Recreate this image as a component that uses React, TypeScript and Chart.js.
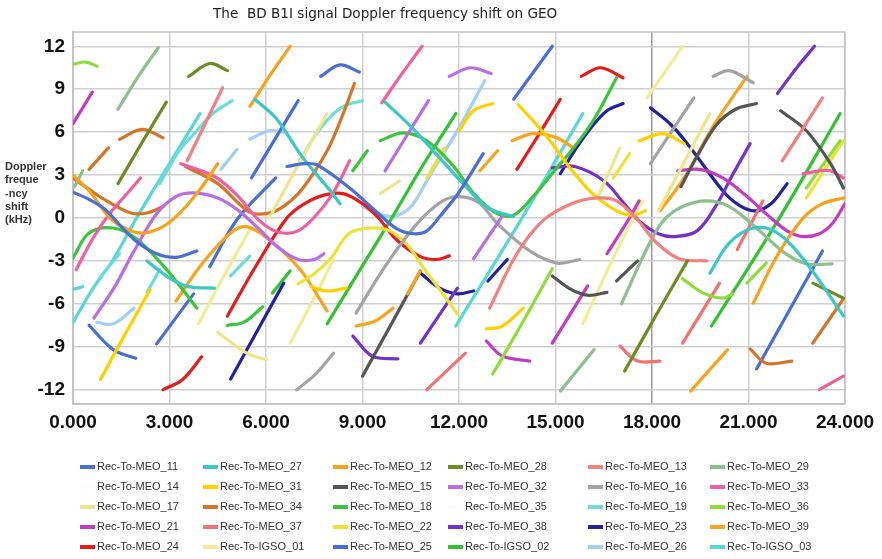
import React, { useEffect, useRef } from "react";
import { Chart, registerables } from "chart.js";
Chart.register(...registerables);

type Pt = [number, number];
type Seg = Pt[];

const TITLE = "The  BD B1I signal Doppler frequency shift on GEO";
const Y_LABEL_LINES = ["Doppler", "freque", "-ncy", "shift", "(kHz)"];
const X_TICKS = [0, 3, 6, 9, 12, 15, 18, 21, 24];
const Y_TICKS = [-12, -9, -6, -3, 0, 3, 6, 9, 12];

const MEO_11: Seg[] = [
  [[0, 1.8], [0.5, 1.3], [1.0, 0.6], [1.5, -0.6], [2.0, -1.7], [2.6, -2.5], [3.2, -2.75], [3.85, -2.3]],
  [[6.65, 3.6], [7.2, 3.8], [7.6, 3.7], [8.6, 2.1], [9.5, 0.3], [10.1, -0.8], [10.6, -1.1], [11.0, -0.9], [11.4, 0.1], [12.0, 1.8], [12.75, 4.5]],
  [[7.7, 9.9], [8.3, 10.7], [8.9, 10.2]],
];
const MEO_27: Seg[] = [
  [[2.3, -3.0], [3.0, -4.2], [3.6, -4.8], [4.4, -4.9]],
  [[5.65, 8.3], [6.3, 7.0], [7.15, 4.2], [8.0, 1.9], [8.3, 1.0]],
  [[9.7, 8.1], [10.5, 6.4], [11.4, 4.2], [12.25, 2.1], [12.9, 0.7], [13.7, 0.1]],
  [[19.8, -3.85], [20.4, -1.75], [21.15, -0.7], [21.9, -1.05], [22.8, -3.15], [23.95, -6.85]],
];
const MEO_12: Seg[] = [
  [[0, 3.0], [0.5, 1.9], [1.15, 0.0], [1.7, -0.8], [2.2, -1.05], [2.8, -0.6], [3.3, 0.3], [3.95, 2.0], [4.5, 3.8]],
  [[5.5, 7.8], [6.1, 9.9], [6.75, 12]],
  [[10.4, -5.3], [10.8, -3.7]],
  [[12.65, 3.3], [13.2, 4.7]],
  [[21.15, -5.95], [21.9, -2.6], [22.7, 0], [23.3, 1.0], [23.95, 1.4]],
];
const MEO_28: Seg[] = [
  [[1.4, 2.4], [2.1, 5.1], [2.9, 8.1]],
  [[3.6, 9.9], [4.25, 10.8], [4.8, 10.3]],
  [[17.15, -10.7], [18.1, -6.9], [19.1, -3.0]],
  [[23.0, -4.55], [23.95, -5.6]],
];
const MEO_13: Seg[] = [
  [[3.55, 4.0], [4.65, 9.1]],
  [[12.95, -6.3], [13.8, -2.5], [14.6, -0.2], [15.5, 1.0], [16.3, 1.4], [16.9, 1.2], [17.5, 0.0], [18.15, -1.75], [18.85, -2.85], [19.7, -3.0]],
  [[22.05, 4.0], [23.3, 8.4]],
];
const MEO_29: Seg[] = [
  [[0.05, 2.2], [0.3, 3.3]],
  [[1.4, 7.6], [2.0, 9.8], [2.65, 11.9]],
  [[15.15, -12.1], [16.2, -9.2]],
  [[17.05, -6.0], [17.85, -2.1], [18.35, -0.2], [18.95, 0.8], [19.7, 1.2], [20.4, 0.8], [21.15, -0.5], [22.1, -2.4], [22.8, -3.2], [23.6, -3.2]],
];
const MEO_14: Seg[] = [];
const MEO_31: Seg[] = [
  [[0.85, -11.3], [1.6, -8.2], [2.4, -5.0]],
  [[7.4, -4.8], [7.9, -5.1], [8.5, -4.9]],
  [[12.0, 6.1], [12.45, 7.5], [13.05, 8.0]],
  [[13.85, 7.9], [14.5, 6.3], [14.9, 5.2], [15.45, 3.5], [16.15, 1.7], [16.9, 0.5], [17.4, 0.2], [17.8, 0.5]],
  [[12.85, -7.75], [13.35, -7.55], [14.0, -6.3]],
  [[17.6, 5.4], [18.35, 5.9], [19.0, 5.2]],
];
const MEO_15: Seg[] = [
  [[9.0, -11.05], [9.9, -7.4], [10.8, -3.7]],
  [[14.9, -4.05], [15.45, -4.95], [16.0, -5.4], [16.6, -5.2]],
  [[16.9, -4.4], [17.55, -3.0]],
  [[18.9, 2.2], [19.4, 4.3], [20.0, 6.5], [20.6, 7.6], [21.25, 8.0]],
  [[22.0, 7.5], [22.8, 6.1], [23.55, 3.8], [23.95, 2.1]],
];
const MEO_32: Seg[] = [
  [[0.65, -7.0], [1.3, -4.8], [1.9, -2.3], [2.6, 0.3], [3.2, 1.5], [3.75, 1.75], [4.5, 1.4], [5.1, 0.6], [5.75, -0.7], [6.4, -2.1], [7.0, -2.9], [7.5, -2.9], [7.8, -2.5]],
  [[9.7, 3.3], [11.05, 8.2]],
  [[11.7, 9.9], [12.35, 10.5], [13.0, 10.1]],
  [[12.45, -2.85], [13.35, 0.15]],
];
const MEO_16: Seg[] = [
  [[6.95, -12.0], [7.5, -11.0], [8.1, -9.45]],
  [[8.8, -6.65], [9.65, -3.55], [10.3, -1.5], [10.9, 0.1], [11.5, 1.2], [12.0, 1.5], [12.6, 1.1], [13.2, -0.4], [14.2, -2.3], [15.05, -3.15], [15.75, -2.9]],
  [[17.95, 3.8], [19.3, 8.4]],
  [[19.9, 9.9], [20.4, 10.3], [21.15, 9.45]],
];
const MEO_33: Seg[] = [
  [[0.1, -3.6], [0.6, -1.5], [1.1, 0.2], [1.6, 1.5], [2.1, 2.8]],
  [[3.35, 3.8], [4.4, 2.9], [5.1, 1.6], [5.8, -0.2], [6.4, -1.0], [7.0, -0.9], [7.6, 0.3], [8.1, 1.8], [8.6, 4.0]],
  [[9.6, 8.05], [10.2, 10.0], [10.85, 12.0]],
  [[22.7, 3.1], [23.2, 3.3], [23.55, 3.3], [23.95, 2.8]],
  [[23.2, -12.0], [23.95, -11.05]],
];
const MEO_17: Seg[] = [
  [[4.5, -8.0], [5.4, -9.45], [6.0, -9.9]],
  [[6.1, 0.0], [7.0, 3.7], [7.9, 7.3]],
  [[9.55, 1.7], [10.15, 2.6]],
  [[16.3, 1.4], [17.0, 4.9]],
  [[18.2, 0.5], [19.8, 7.3]],
];
const MEO_34: Seg[] = [
  [[0, 2.8], [0.5, 2.0], [1.05, 1.2], [1.8, 0.35], [2.3, 0.35], [2.8, 0.8]],
  [[0.5, 3.4], [1.1, 4.9]],
  [[1.45, 5.5], [2.15, 6.2], [2.8, 5.6]],
  [[3.5, 3.6], [4.5, 2.4], [5.5, 0.4], [6.1, 0.35], [6.6, 0.9], [7.15, 2.1], [7.9, 4.7], [8.4, 7.3], [8.75, 9.4]],
  [[21.05, -9.15], [21.55, -10.15], [22.35, -10.0]],
  [[23.0, -8.75], [23.95, -5.65]],
];
const MEO_18: Seg[] = [
  [[0, -2.8], [0.5, -1.05], [1.25, -0.7], [2.0, -1.5], [3.0, -3.85], [3.85, -6.3]],
  [[4.8, -7.5], [5.3, -7.3], [5.9, -6.2]],
  [[8.7, 3.3], [9.15, 4.7]],
  [[9.55, 5.4], [10.25, 5.95], [11.0, 5.4], [11.8, 3.7], [12.5, 1.6], [13.2, 0.3], [13.7, 0.2], [14.3, 1.5], [15.0, 3.4], [15.6, 5.0], [16.2, 6.9], [16.9, 9.8]],
];
const MEO_35: Seg[] = [];
const MEO_19: Seg[] = [
  [[0.85, -4.1], [1.45, -2.5]],
  [[2.3, -5.2], [2.7, -3.6]],
  [[2.7, 2.4], [3.3, 4.7], [3.85, 6.1], [4.35, 7.3], [4.95, 8.2]],
  [[4.9, -4.05], [5.5, -2.65]],
  [[7.05, 4.0], [7.6, 6.0], [8.1, 7.3], [8.5, 7.9], [9.0, 8.2]],
];
const MEO_36: Seg[] = [
  [[0, 10.75], [0.4, 10.9], [0.75, 10.6]],
  [[13.05, -10.9], [14.0, -7.2], [14.9, -3.55]],
  [[18.95, -4.25], [19.6, -5.25], [20.2, -5.6], [20.5, -5.3]],
  [[20.95, -4.55], [21.55, -3.15]],
  [[22.8, 2.1], [23.85, 5.4]],
];
const MEO_21: Seg[] = [
  [[0, 6.6], [0.6, 8.8]],
  [[12.85, -8.6], [13.35, -9.65], [14.2, -10.0]],
  [[14.9, -8.75], [16.0, -4.75]],
  [[16.6, -2.5], [17.3, 0], [17.6, 1.2]],
  [[18.8, 3.3], [19.5, 3.4], [20.2, 2.8], [20.9, 1.6], [21.6, 0.2], [22.2, -0.9], [22.7, -1.3], [23.2, -1.1], [23.6, -0.4], [24, 1.0]],
];
const MEO_37: Seg[] = [
  [[11.0, -12.0], [12.2, -9.45]],
  [[17.0, -8.95], [17.55, -10.0], [18.25, -10.0]],
  [[18.95, -8.75], [20.1, -4.55]],
  [[20.65, -2.2], [21.45, 1.2]],
];
const MEO_22: Seg[] = [
  [[7.0, -4.6], [7.5, -3.9], [8.0, -2.85], [8.6, -1.05], [9.25, -0.7], [9.85, -0.9], [10.4, -1.9], [10.9, -3.5], [11.4, -5.0], [11.95, -6.7]],
  [[11.0, 2.8], [11.55, 4.9]],
  [[16.8, 2.8], [17.3, 4.5]],
  [[22.8, 1.4], [23.95, 5.4]],
];
const MEO_38: Seg[] = [
  [[8.7, -8.25], [9.3, -9.65], [10.1, -9.85]],
  [[10.8, -8.75], [11.95, -4.9]],
  [[14.9, 3.5], [15.6, 3.6], [16.5, 2.6], [17.1, 1.1], [17.6, -0.2], [18.2, -1.1], [18.7, -1.3], [19.4, -0.9], [20.0, 0.9], [20.5, 3.0], [21.05, 5.2]],
  [[21.9, 8.7], [22.5, 10.5], [23.05, 12.0]],
];
const MEO_23: Seg[] = [
  [[4.9, -11.25], [5.7, -8.0], [6.55, -4.55]],
  [[10.8, -3.85], [11.4, -4.9], [11.95, -5.3], [12.45, -5.1]],
  [[12.9, -4.4], [13.5, -2.9]],
  [[15.15, 3.1], [15.65, 4.9], [16.1, 6.3], [16.6, 7.5], [17.1, 8.0]],
  [[17.95, 7.7], [18.6, 6.5], [19.2, 4.9], [20.2, 1.9], [20.7, 0.9], [21.2, 0.5], [21.7, 1.0], [22.2, 2.4]],
];
const MEO_39: Seg[] = [
  [[3.2, -5.8], [4.05, -3.1], [4.9, -1.05], [5.4, -0.6], [6.1, -1.5], [6.6, -2.5], [7.15, -3.85], [7.9, -6.5]],
  [[8.8, -7.55], [9.4, -7.2], [9.95, -6.3]],
  [[13.65, 5.4], [14.3, 5.9], [15.05, 5.6], [15.55, 4.9]],
  [[18.25, 0.5], [19.0, 2.8], [19.9, 6.4], [20.95, 9.9]],
  [[19.2, -12.1], [20.35, -9.2]],
];
const MEO_24: Seg[] = [
  [[2.8, -12.0], [3.4, -11.3], [4.0, -9.7]],
  [[4.8, -6.85], [5.7, -3.3], [6.65, 0.0], [7.2, 1.0], [7.8, 1.6], [8.4, 1.7], [9.0, 1.0], [9.5, 0.0], [10.05, -1.5], [10.8, -2.7], [11.3, -2.9], [11.7, -2.65]],
  [[13.8, 3.4], [14.5, 5.9], [15.15, 8.3]],
  [[15.8, 9.9], [16.4, 10.5], [17.1, 9.8]],
];
const IGSO_01: Seg[] = [
  [[3.9, -7.4], [4.7, -4.0], [5.5, -0.8]],
  [[6.75, -8.75], [7.4, -6.0], [8.1, -2.9]],
  [[15.85, -7.4], [16.9, -2.3], [17.7, 1.2]],
  [[17.85, 8.4], [18.95, 12.0]],
];
const MEO_25: Seg[] = [
  [[0.5, -7.5], [1.25, -9.2], [1.95, -9.8]],
  [[2.6, -8.8], [3.75, -5.3]],
  [[4.25, -3.4], [5.1, -0.1], [6.3, 2.8]],
  [[5.55, 2.8], [7.0, 8.2]],
  [[13.7, 8.3], [14.9, 12.0]],
  [[21.25, -10.55], [23.3, -2.3]],
];
const IGSO_02: Seg[] = [
  [[6.2, -5.25], [6.75, -3.7]],
  [[7.9, -7.4], [8.9, -3.7], [9.95, 0.15], [10.8, 3.4], [11.9, 7.3]],
  [[19.85, -7.55], [22.0, 0.15], [23.85, 7.3]],
];
const MEO_26: Seg[] = [
  [[0.75, -7.3], [1.25, -7.4], [1.9, -6.3]],
  [[4.6, 3.4], [5.1, 4.8]],
  [[5.5, 5.5], [6.1, 6.1], [6.65, 5.95]],
  [[9.0, 0.8], [9.6, 0.2], [10.1, 0.2], [10.55, 0.9], [11.1, 3.0], [12.0, 6.3], [12.8, 9.6]],
];
const IGSO_03: Seg[] = [
  [[0, -5.0], [0.3, -4.8]],
  [[0, -7.3], [0.6, -5.0], [1.25, -2.9], [2.0, 0.1], [3.0, 3.8], [3.95, 7.3]],
  [[11.9, -7.55], [14.0, 0.15], [15.85, 7.3]],
];

const SERIES_NAMES = [
  "Rec-To-MEO_11", "Rec-To-MEO_27", "Rec-To-MEO_12", "Rec-To-MEO_28", "Rec-To-MEO_13", "Rec-To-MEO_29",
  "Rec-To-MEO_14", "Rec-To-MEO_31", "Rec-To-MEO_15", "Rec-To-MEO_32", "Rec-To-MEO_16", "Rec-To-MEO_33",
  "Rec-To-MEO_17", "Rec-To-MEO_34", "Rec-To-MEO_18", "Rec-To-MEO_35", "Rec-To-MEO_19", "Rec-To-MEO_36",
  "Rec-To-MEO_21", "Rec-To-MEO_37", "Rec-To-MEO_22", "Rec-To-MEO_38", "Rec-To-MEO_23", "Rec-To-MEO_39",
  "Rec-To-MEO_24", "Rec-To-IGSO_01", "Rec-To-MEO_25", "Rec-To-IGSO_02", "Rec-To-MEO_26", "Rec-To-IGSO_03",
];
const SERIES_DATA: Seg[][] = [
  MEO_11, MEO_27, MEO_12, MEO_28, MEO_13, MEO_29,
  MEO_14, MEO_31, MEO_15, MEO_32, MEO_16, MEO_33,
  MEO_17, MEO_34, MEO_18, MEO_35, MEO_19, MEO_36,
  MEO_21, MEO_37, MEO_22, MEO_38, MEO_23, MEO_39,
  MEO_24, IGSO_01, MEO_25, IGSO_02, MEO_26, IGSO_03,
];
const SERIES_COLORS = [
  "#4a6fd4", "#3cc6c6", "#f5a21c", "#6b8c22", "#f28080", "#8fbf8f",
  "#fdfdfd", "#ffd000", "#555555", "#b86de0", "#a3a3a3", "#f0609e",
  "#efe58c", "#d4762a", "#3dc43d", "#fdfdfd", "#6fdcdc", "#8fdc3c",
  "#c23cc2", "#f27272", "#eee23a", "#7433c6", "#22229e", "#f7a41e",
  "#e41c1c", "#f1ec98", "#4a6fd4", "#33c233", "#a2cff2", "#5ad6d6",
];

const LEGEND_COL_X = [80, 203, 333, 448, 588, 710];
const LEGEND_ROW_Y = [467, 487, 507, 527, 547];

function toPoints(segs: Seg[]) {
  const out: { x: number; y: number | null }[] = [];
  segs.forEach((s, i) => {
    if (i > 0) out.push({ x: s[0][0], y: null });
    s.forEach(([x, y]) => out.push({ x, y }));
  });
  return out;
}

const decorations = {
  id: "decorations",
  beforeDatasetsDraw(chart: any) {
    const { ctx, chartArea: a } = chart;
    ctx.save();
    ctx.strokeStyle = "#c2c2c2";
    ctx.lineWidth = 1.5;
    ctx.strokeRect(a.left, a.top, a.right - a.left, a.bottom - a.top);
    ctx.restore();
  },
  afterDraw(chart: any) {
    const ctx = chart.ctx as CanvasRenderingContext2D;
    ctx.save();
    ctx.textBaseline = "middle";
    ctx.textAlign = "left";
    ctx.fillStyle = "#222";
    ctx.font = '13.6px "DejaVu Sans", Verdana, sans-serif';
    ctx.fillText(TITLE, 213, 14);
    ctx.font = 'bold 11px "Liberation Sans", Arial, sans-serif';
    ctx.fillStyle = "#333";
    Y_LABEL_LINES.forEach((t, i) => ctx.fillText(t, 5, 167 + i * 13.3));
    ctx.font = '11px "Liberation Sans", Arial, sans-serif';
    chart.data.datasets.forEach((ds: any, i: number) => {
      const col = i % 6;
      const row = Math.floor(i / 6);
      const x = LEGEND_COL_X[col];
      const y = LEGEND_ROW_Y[row];
      ctx.strokeStyle = ds.borderColor;
      ctx.lineWidth = 4;
      ctx.lineCap = "butt";
      ctx.beginPath();
      ctx.moveTo(x, y);
      ctx.lineTo(x + 15, y);
      ctx.stroke();
      ctx.fillStyle = "#333";
      ctx.fillText(ds.label, x + 17, y);
    });
    ctx.restore();
  },
};

export default function App() {
  const ref = useRef<HTMLCanvasElement>(null);
  useEffect(() => {
    const chart = new Chart(ref.current as HTMLCanvasElement, {
      type: "line",
      data: {
        datasets: SERIES_DATA.map((segs, i) => ({
          label: SERIES_NAMES[i],
          data: toPoints(segs),
          borderColor: SERIES_COLORS[i],
          backgroundColor: SERIES_COLORS[i],
          borderWidth: 3.2,
          pointRadius: 0,
          tension: 0.35,
          spanGaps: false,
          fill: false,
          borderCapStyle: "round",
          borderJoinStyle: "round",
        })) as any,
      },
      options: {
        animation: false,
        responsive: false,
        devicePixelRatio: 1,
        layout: { padding: { left: 0, top: 32, right: 37, bottom: 125 } },
        plugins: {
          legend: { display: false },
          tooltip: { enabled: false },
          title: { display: false },
        },
        scales: {
          x: {
            type: "linear",
            min: 0,
            max: 24,
            afterBuildTicks: (s: any) => {
              s.ticks = X_TICKS.map((v) => ({ value: v }));
            },
            afterFit: (s: any) => {
              s.height = 30;
            },
            ticks: {
              callback: (v: any) => Number(v).toFixed(3),
              font: { family: '"Liberation Sans", Arial, sans-serif', size: 19, weight: "bold" },
              color: "#111",
              padding: 7,
              maxRotation: 0,
            },
            grid: {
              drawTicks: false,
              lineWidth: 1.5,
              color: (c: any) => (c.tick && c.tick.value === 18 ? "#9a9a9a" : "#cfcfcf"),
            },
            border: { color: "#c2c2c2", width: 1.5 },
          },
          y: {
            type: "linear",
            min: -13,
            max: 13,
            afterBuildTicks: (s: any) => {
              s.ticks = Y_TICKS.map((v) => ({ value: v }));
            },
            afterFit: (s: any) => {
              s.width = 73;
            },
            ticks: {
              font: { family: '"Liberation Sans", Arial, sans-serif', size: 19, weight: "bold" },
              color: "#111",
              padding: 8,
            },
            grid: { drawTicks: false, lineWidth: 1.5, color: "#cfcfcf" },
            border: { color: "#c2c2c2", width: 1.5 },
          },
        },
      },
      plugins: [decorations],
    });
    return () => chart.destroy();
  }, []);
  return (
    <div style={{ position: "absolute", left: 0, top: 0, width: 882, height: 559, background: "#fff" }}>
      <canvas ref={ref} width={882} height={559} style={{ display: "block", width: 882, height: 559 }} />
    </div>
  );
}
